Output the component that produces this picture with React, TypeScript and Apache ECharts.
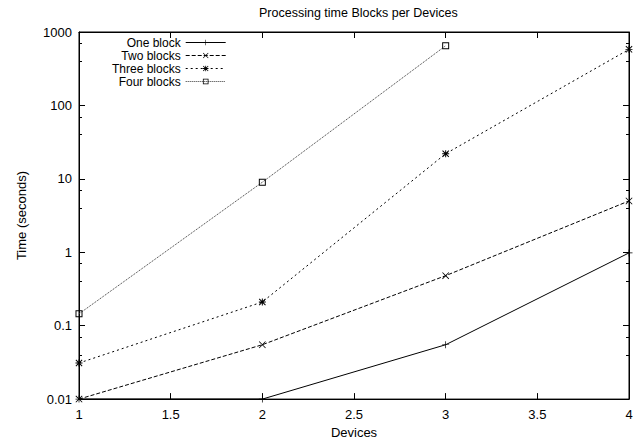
import React, { useEffect, useRef } from "react";
import * as echarts from "echarts";

const devices = [1, 2, 3, 4];
const seriesNames = ["One block", "Two blocks", "Three blocks", "Four blocks"];
const oneBlock = [0.01, 0.01, 0.055, 0.98];
const twoBlocks = [0.01, 0.055, 0.48, 5];
const threeBlocks = [0.031, 0.21, 22, 580];
const fourBlocks = [0.145, 9, 650, null];
const yTicks = ["0.01", "0.1", "1", "10", "100", "1000"];

const FONT = "Liberation Sans, Arial, sans-serif";

const plusPath = "path://M0,4.5h10v1h-10z M4.5,0h1v10h-1z";
const crossPath = "path://M0,0.8L0.8,0L10,9.2L9.2,10z M9.2,0L10,0.8L0.8,10L0,9.2z";
const starPath =
  "path://M0,4.3h10v1.4h-10z M4.3,0h1.4v10h-1.4z M0,1L1,0L10,9L9,10z M9,0L10,1L1,10L0,9z";
const squarePath = "path://M0,0h10v10h-10z M1.4,1.4v7.2h7.2v-7.2z";

export default function App() {
  const ref = useRef<HTMLDivElement>(null);
  useEffect(() => {
    if (!ref.current) return;
    const chart = echarts.init(ref.current, undefined, { renderer: "svg" });
    const mk = (vals: (number | null)[]) => devices.map((d, i) => [d, vals[i]]);
    const lineBase = { color: "#000", width: 1 };
    const option: any = {
      animation: false,
      backgroundColor: "#fff",
      textStyle: { fontFamily: FONT },
      title: {
        text: "Processing time Blocks per Devices",
        left: 254,
        top: 1,
        textStyle: { fontSize: 12.5, fontWeight: "normal", color: "#000", fontFamily: FONT },
      },
      legend: {
        orient: "vertical",
        align: "right",
        left: 107,
        top: 31,
        itemWidth: 40,
        itemHeight: 7,
        itemGap: 0,
        lineStyle: { width: 1 },
        textStyle: { fontSize: 12, color: "#000", lineHeight: 13, fontFamily: FONT },
        data: seriesNames,
      },
      grid: {
        left: 79,
        right: 13,
        top: 32,
        bottom: 38,
        show: true,
        borderColor: "#000",
        borderWidth: 1,
        backgroundColor: "transparent",
      },
      xAxis: [
        {
          type: "value",
          min: 1,
          max: 4,
          interval: 0.5,
          name: "Devices",
          nameLocation: "middle",
          nameGap: 19,
          nameTextStyle: { fontSize: 13, color: "#000", fontFamily: FONT },
          axisLine: { show: true, lineStyle: { color: "#000" } },
          axisTick: { inside: true, length: 6, lineStyle: { color: "#000" } },
          axisLabel: { fontSize: 13, color: "#000", margin: 9, fontFamily: FONT },
          splitLine: { show: false },
        },
        {
          type: "value",
          position: "top",
          min: 1,
          max: 4,
          interval: 0.5,
          axisLine: { show: true, lineStyle: { color: "#000" } },
          axisTick: { inside: true, length: 6, lineStyle: { color: "#000" } },
          axisLabel: { show: false },
          splitLine: { show: false },
        },
      ],
      yAxis: [
        {
          type: "log",
          logBase: 10,
          min: 0.01,
          max: 1000,
          name: "Time (seconds)",
          nameLocation: "middle",
          nameGap: 51,
          nameRotate: 90,
          nameTextStyle: { fontSize: 13, color: "#000", fontFamily: FONT },
          axisLine: { show: true, lineStyle: { color: "#000" } },
          axisTick: { inside: true, length: 6, lineStyle: { color: "#000" } },
          minorTick: { show: true, splitNumber: 3, length: 3, lineStyle: { color: "#000" } },
          axisLabel: {
            fontSize: 13,
            color: "#000",
            margin: 7,
            fontFamily: FONT,
            formatter: (v: number) => {
              const idx = Math.round(Math.log10(v)) + 2;
              return yTicks[idx] ?? String(v);
            },
          },
          splitLine: { show: false },
        },
        {
          type: "log",
          logBase: 10,
          min: 0.01,
          max: 1000,
          position: "right",
          axisLine: { show: true, lineStyle: { color: "#000" } },
          axisTick: { inside: true, length: 6, lineStyle: { color: "#000" } },
          minorTick: { show: true, splitNumber: 3, length: 3, lineStyle: { color: "#000" } },
          axisLabel: { show: false },
          splitLine: { show: false },
        },
      ],
      series: [
        {
          name: seriesNames[0],
          type: "line",
          data: mk(oneBlock),
          clip: false,
          symbol: plusPath,
          symbolSize: 7,
          itemStyle: { color: "#000" },
          lineStyle: { ...lineBase, type: "solid" },
        },
        {
          name: seriesNames[1],
          type: "line",
          data: mk(twoBlocks),
          clip: false,
          symbol: crossPath,
          symbolSize: 7,
          itemStyle: { color: "#000" },
          lineStyle: { ...lineBase, type: [4, 2] },
        },
        {
          name: seriesNames[2],
          type: "line",
          data: mk(threeBlocks),
          clip: false,
          symbol: starPath,
          symbolSize: 7,
          itemStyle: { color: "#000" },
          lineStyle: { ...lineBase, type: [2, 3] },
        },
        {
          name: seriesNames[3],
          type: "line",
          data: mk(fourBlocks),
          clip: false,
          symbol: squarePath,
          symbolSize: 7,
          itemStyle: { color: "#000" },
          lineStyle: { color: "#333", width: 1, type: [1, 1] },
        },
      ],
    };
    chart.setOption(option);
    return () => chart.dispose();
  }, []);
  return (
    <div
      ref={ref}
      style={{ position: "fixed", left: 0, top: 0, width: 642, height: 444 }}
    />
  );
}
